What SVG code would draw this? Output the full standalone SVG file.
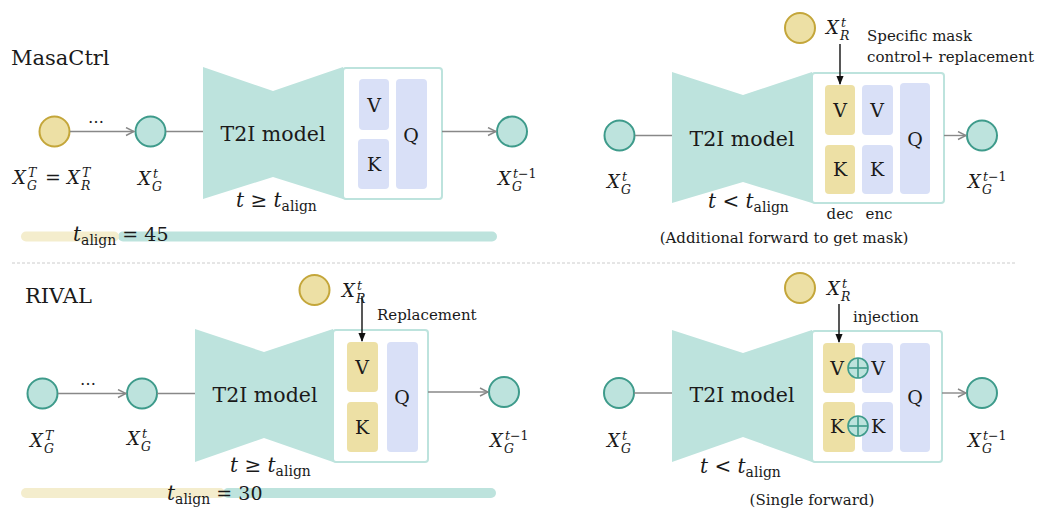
<svg xmlns="http://www.w3.org/2000/svg" width="1040" height="512" viewBox="0 0 1040 512">
  <style>
    text { font-family: "DejaVu Serif", "Liberation Serif", serif; fill: #1a1a1a; }
    .title { font-size: 21px; }
    .model { font-size: 20.5px; }
    .blk { font-size: 19px; text-anchor: middle; }
    .note { font-size: 15px; }
    .mi { font-size: 18px; font-style: italic; }
    .ms { font-size: 12.5px; font-style: italic; }
    .mu { font-size: 12px; }
    .eq { font-size: 19px; }
    .teal { fill: #bde3dd; stroke: #3e9b8b; stroke-width: 2; }
    .gold { fill: #ede0a5; stroke: #c4a63a; stroke-width: 2; }
    .unet { fill: #bde3dd; }
    .box { fill: #ffffff; stroke: #bde3dd; stroke-width: 2; }
    .kvl { fill: #d9e0f7; }
    .kvy { fill: #ede0a5; }
    .link { stroke: #888888; stroke-width: 1.4; fill: none; }
    .arr { stroke: #888888; stroke-width: 1.4; fill: none; marker-end: url(#open); }
    .inj { stroke: #111111; stroke-width: 1.4; fill: none; marker-end: url(#solid); }
    .plus { fill: #bde3dd; stroke: #3e9b8b; stroke-width: 1.6; }
  </style>
  <defs>
    <marker id="open" viewBox="0 0 10 10" refX="9" refY="5" markerWidth="10" markerHeight="10" markerUnits="userSpaceOnUse" orient="auto">
      <path d="M1,1 L9,5 L1,9" fill="none" stroke="#888888" stroke-width="1.4"/>
    </marker>
    <marker id="solid" viewBox="0 0 10 10" refX="9" refY="5" markerWidth="9" markerHeight="9" markerUnits="userSpaceOnUse" orient="auto">
      <path d="M0,1 L10,5 L0,9 Z" fill="#111111"/>
    </marker>
  </defs>

  <rect width="1040" height="512" fill="#ffffff"/>

  <!-- section titles and divider -->
  <text class="title" x="11" y="65">MasaCtrl</text>
  <text class="title" x="25" y="303">RIVAL</text>
  <line x1="12" y1="263" x2="1017" y2="263" stroke="#cccccc" stroke-width="1" stroke-dasharray="3 2"/>

  <!-- timeline bars -->
  <g id="bar-top">
    <line x1="123" y1="236.5" x2="492" y2="236.5" stroke="#bde3dd" stroke-width="10" stroke-linecap="round"/>
    <line x1="26" y1="236.5" x2="114" y2="236.5" stroke="#f4edcd" stroke-width="10" stroke-linecap="round"/>
    <text class="mi" x="73" y="241" style="font-size:20px">t<tspan class="mu" style="font-style:normal;font-size:14px" dy="4">align</tspan><tspan class="eq" style="font-style:normal" dy="-4"> = 45</tspan></text>
  </g>
  <g id="bar-bottom">
    <line x1="228" y1="493" x2="491" y2="493" stroke="#bde3dd" stroke-width="10" stroke-linecap="round"/>
    <line x1="26" y1="493" x2="220" y2="493" stroke="#f4edcd" stroke-width="10" stroke-linecap="round"/>
    <text class="mi" x="167" y="500" style="font-size:20px">t<tspan class="mu" style="font-style:normal;font-size:14px" dy="4">align</tspan><tspan class="eq" style="font-style:normal" dy="-4"> = 30</tspan></text>
  </g>

  <!-- MasaCtrl, t >= t_align -->
  <g id="masa-xT">
    <circle class="gold" cx="54.5" cy="131.5" r="15"/>
    <text class="mi" x="13" y="184">X</text><text class="ms" x="28" y="177">T</text><text class="ms" x="27" y="190">G</text>
    <text class="eq" x="45" y="184">=</text>
    <text class="mi" x="67" y="184">X</text><text class="ms" x="82" y="177">T</text><text class="ms" x="81" y="190">R</text>
  </g>
  <text x="88" y="123" style="font-size:16px">…</text>
  <g id="masa-xt">
    <circle class="teal" cx="150.5" cy="131.5" r="15"/>
    <text class="mi" x="138" y="185">X</text><text class="ms" x="153" y="178">t</text><text class="ms" x="152" y="191">G</text>
  </g>
  <g id="masa-model1">
    <polygon class="unet" points="203,67 273,91 343,67 343,199 273,177 203,199"/>
    <rect class="box" x="343" y="68" width="99" height="131" rx="3"/>
    <rect class="kvl" x="359" y="79" width="30" height="51" rx="4"/>
    <rect class="kvl" x="358" y="139" width="31" height="50" rx="4"/>
    <rect class="kvl" x="396" y="79" width="31" height="110" rx="4"/>
    <text class="blk" x="374" y="112">V</text>
    <text class="blk" x="374" y="171">K</text>
    <text class="blk" x="411" y="142">Q</text>
    <text class="model" x="273" y="141" text-anchor="middle">T2I model</text>
    <text class="mi" x="236" y="207" style="font-size:20px">t<tspan style="font-style:normal"> ≥ </tspan>t<tspan style="font-style:normal;font-size:14px" dy="4">align</tspan></text>
  </g>
  <g id="masa-xt1">
    <circle class="teal" cx="512" cy="131.5" r="15"/>
    <text class="mi" x="498" y="185">X</text><text class="ms" x="513" y="178">t<tspan style="font-style:normal">−1</tspan></text><text class="ms" x="512" y="191">G</text>
  </g>

  <!-- MasaCtrl, t < t_align -->
  <g id="masa-xr">
    <circle class="gold" cx="800" cy="28" r="15"/>
    <text class="mi" x="826" y="34">X</text><text class="ms" x="841" y="27">t</text><text class="ms" x="840" y="40">R</text>
    <text class="note" x="867" y="41">Specific mask</text>
    <text class="note" x="867" y="62">control+ replacement</text>
  </g>
  <g id="masa-xt-b">
    <circle class="teal" cx="619.5" cy="135.5" r="15"/>
    <text class="mi" x="607" y="188">X</text><text class="ms" x="622" y="181">t</text><text class="ms" x="621" y="194">G</text>
  </g>
  <g id="masa-model2">
    <polygon class="unet" points="672,72 743,95 812,72 812,203 743,182 672,203"/>
    <rect class="box" x="812" y="73" width="132" height="130" rx="3"/>
    <rect class="kvy" x="825" y="85" width="30" height="50" rx="4"/>
    <rect class="kvy" x="825" y="145" width="30" height="49" rx="4"/>
    <rect class="kvl" x="862" y="85" width="31" height="50" rx="4"/>
    <rect class="kvl" x="862" y="145" width="31" height="49" rx="4"/>
    <rect class="kvl" x="900" y="83" width="30" height="111" rx="4"/>
    <text class="blk" x="840" y="117">V</text>
    <text class="blk" x="840" y="176">K</text>
    <text class="blk" x="877" y="117">V</text>
    <text class="blk" x="877" y="176">K</text>
    <text class="blk" x="915" y="146">Q</text>
    <text class="model" x="742" y="146" text-anchor="middle">T2I model</text>
    <text class="mi" x="708" y="208" style="font-size:20px">t<tspan style="font-style:normal"> &lt; </tspan>t<tspan style="font-style:normal;font-size:14px" dy="4">align</tspan></text>
    <text class="note" x="840" y="219" text-anchor="middle">dec</text>
    <text class="note" x="879" y="219" text-anchor="middle">enc</text>
    <text class="note" x="784" y="243" text-anchor="middle">(Additional forward to get mask)</text>
  </g>
  <g id="masa-xt1-b">
    <circle class="teal" cx="982" cy="135.5" r="15"/>
    <text class="mi" x="968" y="188">X</text><text class="ms" x="983" y="181">t<tspan style="font-style:normal">−1</tspan></text><text class="ms" x="982" y="194">G</text>
  </g>

  <!-- RIVAL, t >= t_align -->
  <g id="rival-xT">
    <circle class="teal" cx="42.5" cy="393.5" r="15"/>
    <text class="mi" x="30" y="447">X</text><text class="ms" x="45" y="440">T</text><text class="ms" x="44" y="453">G</text>
  </g>
  <text x="80" y="385" style="font-size:16px">…</text>
  <g id="rival-xt">
    <circle class="teal" cx="142" cy="393.5" r="15"/>
    <text class="mi" x="127" y="445">X</text><text class="ms" x="142" y="438">t</text><text class="ms" x="141" y="451">G</text>
  </g>
  <g id="rival-xr">
    <circle class="gold" cx="314.5" cy="290" r="15"/>
    <text class="mi" x="342" y="297">X</text><text class="ms" x="357" y="290">t</text><text class="ms" x="356" y="303">R</text>
    <text class="note" x="377" y="320">Replacement</text>
  </g>
  <g id="rival-model1">
    <polygon class="unet" points="195,329 264,352 333,329 333,462 264,438 195,462"/>
    <rect class="box" x="333" y="330" width="95" height="132" rx="3"/>
    <rect class="kvy" x="347" y="342" width="31" height="50" rx="4"/>
    <rect class="kvy" x="347" y="402" width="31" height="50" rx="4"/>
    <rect class="kvl" x="387" y="342" width="31" height="110" rx="4"/>
    <text class="blk" x="362" y="374">V</text>
    <text class="blk" x="362" y="434">K</text>
    <text class="blk" x="402" y="404">Q</text>
    <text class="model" x="265" y="402" text-anchor="middle">T2I model</text>
    <text class="mi" x="230" y="472" style="font-size:20px">t<tspan style="font-style:normal"> ≥ </tspan>t<tspan style="font-style:normal;font-size:14px" dy="4">align</tspan></text>
  </g>
  <g id="rival-xt1">
    <circle class="teal" cx="504" cy="392" r="15"/>
    <text class="mi" x="490" y="447">X</text><text class="ms" x="505" y="440">t<tspan style="font-style:normal">−1</tspan></text><text class="ms" x="504" y="453">G</text>
  </g>

  <!-- RIVAL, t < t_align -->
  <g id="rival-xr-b">
    <circle class="gold" cx="800" cy="288" r="15"/>
    <text class="mi" x="827" y="295">X</text><text class="ms" x="842" y="288">t</text><text class="ms" x="841" y="301">R</text>
    <text class="note" x="853" y="322">injection</text>
  </g>
  <g id="rival-xt-b">
    <circle class="teal" cx="619" cy="393" r="15"/>
    <text class="mi" x="607" y="447">X</text><text class="ms" x="622" y="440">t</text><text class="ms" x="621" y="453">G</text>
  </g>
  <g id="rival-model2">
    <polygon class="unet" points="672,330 743,353 812,330 812,462 743,437 672,462"/>
    <rect class="box" x="812" y="331" width="130" height="131" rx="3"/>
    <rect class="kvy" x="823" y="343" width="32" height="50" rx="4"/>
    <rect class="kvy" x="823" y="402" width="32" height="50" rx="4"/>
    <rect class="kvl" x="862" y="343" width="31" height="50" rx="4"/>
    <rect class="kvl" x="862" y="402" width="31" height="50" rx="4"/>
    <rect class="kvl" x="900" y="343" width="30" height="109" rx="4"/>
    <text class="blk" x="837" y="375">V</text>
    <text class="blk" x="837" y="433">K</text>
    <text class="blk" x="878" y="375">V</text>
    <text class="blk" x="878" y="433">K</text>
    <text class="blk" x="915" y="404">Q</text>
    <g id="add-v">
      <circle class="plus" cx="858" cy="368" r="10"/>
      <line x1="848" y1="368" x2="868" y2="368" stroke="#3e9b8b" stroke-width="1.6"/>
      <line x1="858" y1="358" x2="858" y2="378" stroke="#3e9b8b" stroke-width="1.6"/>
    </g>
    <g id="add-k">
      <circle class="plus" cx="858" cy="426" r="10"/>
      <line x1="848" y1="426" x2="868" y2="426" stroke="#3e9b8b" stroke-width="1.6"/>
      <line x1="858" y1="416" x2="858" y2="436" stroke="#3e9b8b" stroke-width="1.6"/>
    </g>
    <text class="model" x="742" y="402" text-anchor="middle">T2I model</text>
    <text class="mi" x="700" y="473" style="font-size:20px">t<tspan style="font-style:normal"> &lt; </tspan>t<tspan style="font-style:normal;font-size:14px" dy="4">align</tspan></text>
    <text class="note" x="812" y="505" text-anchor="middle">(Single forward)</text>
  </g>
  <g id="rival-xt1-b">
    <circle class="teal" cx="982" cy="393" r="15"/>
    <text class="mi" x="968" y="447">X</text><text class="ms" x="983" y="440">t<tspan style="font-style:normal">−1</tspan></text><text class="ms" x="982" y="453">G</text>
  </g>

  <!-- connectors, drawn last so the injection arrowheads sit over the blocks -->
  <g id="connectors">
    <line class="arr" x1="70" y1="131.5" x2="134" y2="131.5"/>
    <line class="link" x1="166" y1="131.5" x2="203" y2="131.5"/>
    <line class="arr" x1="442" y1="131.5" x2="496" y2="131.5"/>

    <line class="link" x1="635" y1="135.5" x2="672" y2="135.5"/>
    <line class="arr" x1="944" y1="135.5" x2="966" y2="135.5"/>
    <line class="inj" x1="840" y1="44" x2="840" y2="84"/>

    <line class="arr" x1="58" y1="393.5" x2="126" y2="393.5"/>
    <line class="link" x1="157" y1="393.5" x2="195" y2="393.5"/>
    <line class="arr" x1="428" y1="392" x2="488" y2="392"/>
    <line class="inj" x1="362" y1="296" x2="362" y2="341"/>

    <line class="link" x1="634" y1="393" x2="672" y2="393"/>
    <line class="arr" x1="942" y1="393" x2="966" y2="393"/>
    <line class="inj" x1="839" y1="304" x2="839" y2="342"/>
  </g>
</svg>
